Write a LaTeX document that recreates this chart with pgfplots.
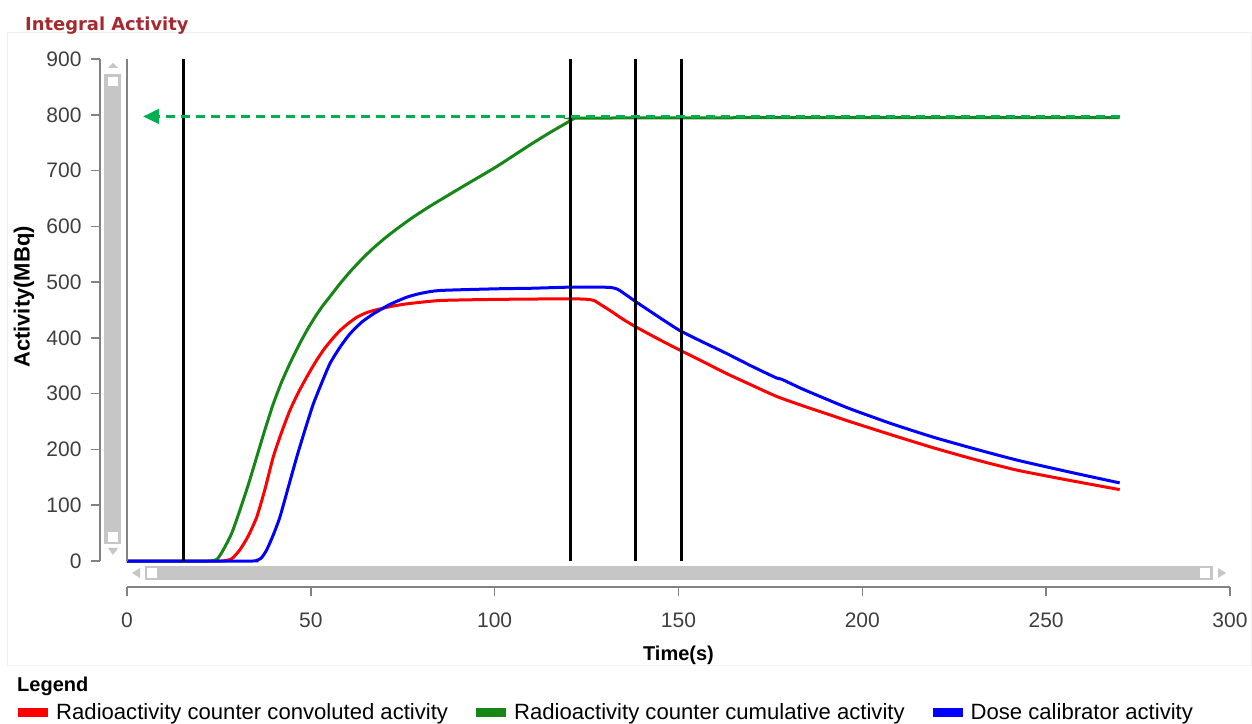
\documentclass[border=0pt]{standalone}
\usepackage{fontspec}
\setmainfont{Liberation Sans}
\newfontfamily\titlefont{DejaVu Sans}
\usepackage{pgfplots}
\pgfplotsset{compat=1.18}
\usetikzlibrary{arrows.meta}
\definecolor{cred}{RGB}{255,0,0}
\definecolor{cgreen}{RGB}{22,135,22}
\definecolor{cblue}{RGB}{0,0,255}
\definecolor{cdash}{RGB}{0,176,80}
\definecolor{ctitle}{RGB}{165,42,48}
\definecolor{axgray}{RGB}{130,130,130}
\definecolor{ticktext}{RGB}{62,62,62}
\definecolor{sbar}{RGB}{198,198,198}
\definecolor{frame}{RGB}{240,240,240}
\begin{document}
\begin{tikzpicture}[x=1pt,y=1pt]
\draw[frame, line width=1pt] (7,58) rectangle (1251,690);
\node[anchor=base west, inner sep=0pt, text=ctitle, font=\titlefont\bfseries\fontsize{17.9}{20}\selectfont] at (25,692) {Integral Activity};
\begin{axis}[
  at={(127pt,162pt)}, anchor=origin,
  scale only axis, width=1103pt, height=502pt,
  xmin=0, xmax=300, ymin=0, ymax=900,
  axis x line*=bottom, axis y line*=left,
  axis x line shift=26pt, axis y line shift=27pt,
  axis line style={axgray, line width=1.6pt, -},
  xtick={0,50,...,300}, ytick={0,100,...,900},
  tick align=outside, major tick length=9pt,
  tick style={axgray, line width=1.6pt},
  ticklabel style={font=\fontsize{21}{24}\selectfont, text=ticktext},
  xticklabel style={yshift=-13pt},
  yticklabel style={xshift=-6pt},
  /pgf/number format/assume math mode=true,
  xlabel={Time(s)}, ylabel={Activity(MBq)},
  xlabel style={font=\bfseries\fontsize{20}{24}\selectfont, at={(axis description cs:0.5,-0.187)}, anchor=center},
  ylabel style={font=\bfseries\fontsize{22}{24}\selectfont, at={(axis description cs:-0.0934,0.526)}, anchor=center},
  clip=false,
  legend columns=3,
  legend image code/.code={\fill[#1] (0pt,-3pt) rectangle (27pt,3pt);},
  legend style={at={(axis description cs:-0.0988,-0.3008)}, anchor=west, draw=none, fill=none, inner sep=0pt,
    font=\fontsize{22.1}{24}\selectfont, nodes={inner sep=0pt, anchor=west},
    /tikz/every even column/.append style={column sep=28pt},
    /tikz/every odd column/.append style={column sep=8pt}},
]
\addplot[cred, line width=3pt, smooth, tension=0.35] coordinates {
(0,0) (25.5,0) (26.5,0.5) (28.5,4) (30.7,20) (33,45) (35.3,79) (37.5,128) (39.8,187) (42,230) (44.3,270) (46.6,302) (48.9,330) (51.2,356) (53.4,378) (55.7,397) (57.9,413) (60.2,426) (62.5,437) (64.7,444) (67,449) (71.5,456) (76.1,461) (85.1,467) (100,469) (118,470) (124.5,469.5) (127,467) (129,459) (131.4,449) (135,433) (138.6,419) (144.5,398) (150.4,378) (156.8,357) (163.1,336) (170,315) (176.7,295) (183.5,279) (190.3,264) (196.6,250) (208,226) (219.3,203) (230.6,182) (242,163) (256,145) (270,128)};
\addlegendentry{Radioactivity counter convoluted activity}
\addplot[cgreen, line width=3pt, smooth, tension=0.35] coordinates {
(0,0) (22,0) (23,0.5) (24.5,3) (26.2,20) (28.5,50) (30.7,91) (33,137) (35.3,187) (37.5,235) (39.8,282) (42,320) (44.3,354) (46.6,385) (48.9,413) (51.2,438) (53.4,459) (55.2,474) (57.9,497) (61,521) (64.3,544) (67,561) (70,578) (73.3,595) (77.5,615) (82.4,636) (91.5,672) (100.5,707) (109.6,746) (115,768) (120.5,789) (121.5,793) (122.5,794) (150,794.5) (200,795) (270,795)};
\addlegendentry{Radioactivity counter cumulative activity}
\addplot[cblue, line width=3pt, smooth, tension=0.35] coordinates {
(0,0) (34,0) (35,0.5) (36.5,5) (38,20) (39.8,47) (41.6,79) (43.9,133) (46.2,187) (48.5,237) (50.7,282) (53,320) (55.2,354) (57.9,383) (60.6,407) (63.8,428) (67,443) (71.5,460) (76.1,473) (80,480) (85.1,485) (100.5,488) (110,489) (120.5,491) (127,491) (131.5,490.5) (133.5,487) (136,476) (138.6,464) (144.5,438) (150.4,413) (156.8,392) (163.1,372) (170,349) (176.7,328) (178,326) (183.5,309) (190.3,290) (196.6,273) (208,246) (219.3,222) (230.6,201) (242,181) (256,160) (270,140)};
\addlegendentry{Dose calibrator activity}
\addplot[black, line width=3pt, forget plot] coordinates {(15.5,0) (15.5,900)};
\addplot[black, line width=3pt, forget plot] coordinates {(120.7,0) (120.7,900)};
\addplot[black, line width=3pt, forget plot] coordinates {(138.4,0) (138.4,900)};
\addplot[black, line width=3pt, forget plot] coordinates {(150.9,0) (150.9,900)};
\addplot[cdash, line width=2.3pt, dash pattern=on 9pt off 6pt, -{Triangle[length=16pt,width=15pt]}, forget plot] coordinates {(270,797) (4.4,797)};
\draw[axgray, line width=1.6pt] (axis cs:0,0) -- (axis cs:0,900);
\end{axis}
% vertical scrollbar
\fill[sbar] (104,179) rectangle (121,649);
\fill[white] (108,637) rectangle (118,646);
\fill[white] (108,181) rectangle (118,191);
\fill[sbar] (108,655) -- (118,655) -- (113,660) -- cycle;
\fill[sbar] (108,175) -- (118,175) -- (113,168) -- cycle;
% horizontal scrollbar
\fill[sbar] (145,143) rectangle (1213,157);
\fill[white] (147,145) rectangle (157,155);
\fill[white] (1200,145) rectangle (1210,155);
\fill[sbar] (140,155) -- (140,145) -- (132,150) -- cycle;
\fill[sbar] (1218,155) -- (1218,145) -- (1226,150) -- cycle;
\node[anchor=base west, inner sep=0pt, font=\bfseries\fontsize{20}{24}\selectfont] at (17,32) {Legend};
\pgfresetboundingbox
\useasboundingbox (0,0) rectangle (1252,723);
\end{tikzpicture}
\end{document}
